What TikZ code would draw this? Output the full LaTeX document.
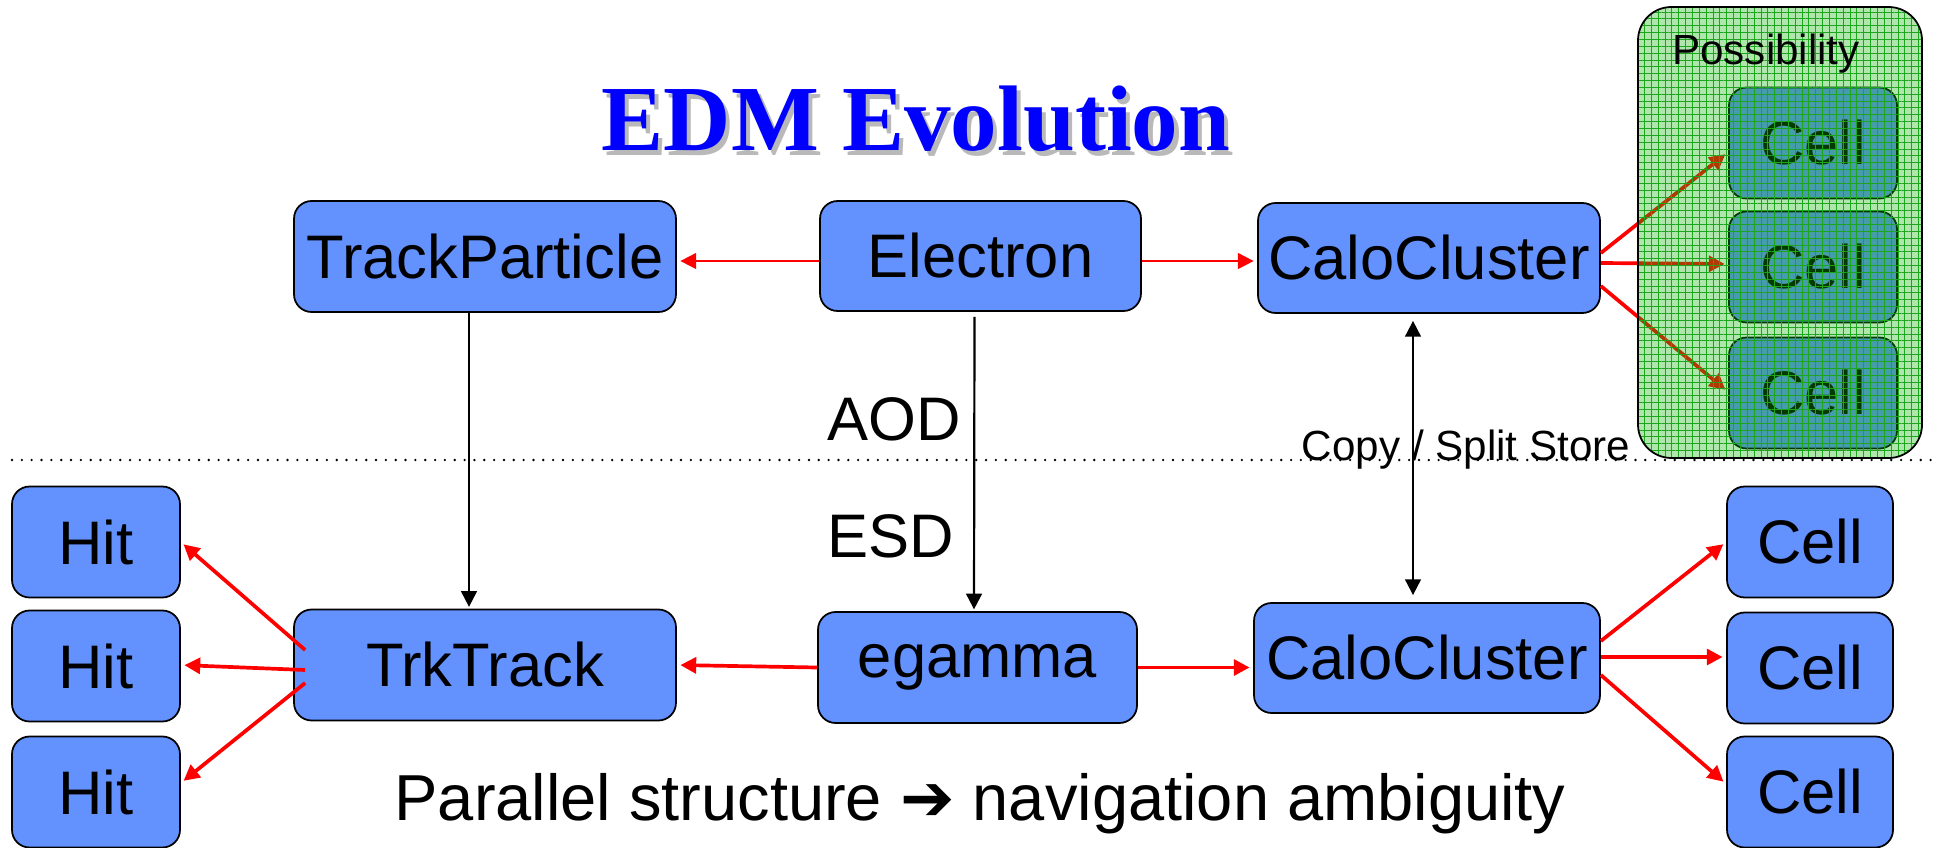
\documentclass[tikz,border=0pt]{standalone}
\usepackage{fontspec}
\setmainfont{Liberation Sans}
\newfontfamily\titlefont{Liberation Serif}
\newfontfamily\symfont{DejaVu Sans}
\usetikzlibrary{arrows.meta, patterns.meta}

\definecolor{boxblue}{RGB}{99,146,255}
\definecolor{possgreen}{RGB}{10,178,0}
\definecolor{gridgreen}{RGB}{30,165,30}
\definecolor{shadowgray}{RGB}{185,185,185}

\begin{document}
\begin{tikzpicture}[
    x=0.02cm, y=-0.02cm,
    % Node styles
    box/.style={
        draw, line width=1pt, fill=boxblue, rounded corners=10pt,
        inner sep=0pt, font=\fontsize{35}{42}\selectfont,
      },
    wide box/.style={box, minimum width=7.64cm, minimum height=2.22cm},
    small box/.style={box, minimum width=3.36cm, minimum height=2.22cm},
    txt/.style={anchor=base, inner sep=0pt, font=\fontsize{35}{42}\selectfont},
    % Edge/arrow styles
    >={Triangle[length=9pt, width=9pt]},
    link/.style={draw=red, line width=2.1pt, ->, shorten >=2pt},
    thin link/.style={link, line width=1pt},
    step link/.style={draw, line width=1.25pt, ->, shorten >=1pt},
    % Overlay of the "Possibility" group
    poss area/.style={rounded corners=19pt},
  ]
  \useasboundingbox (0,0) rectangle (1934,848);

  % --- Title with its shadow ---
  \node[txt, text=blue, font=\titlefont\bfseries\fontsize{53}{60}\selectfont]
    (title) at (916,151)
    {\makebox[0pt][l]{\hspace{2.3pt}\raisebox{-2.3pt}{\textcolor{shadowgray}{EDM Evolution}}}EDM Evolution};

  % --- AOD row ---
  \node[wide box] (tp) at (485,256.5) {TrackParticle};
  \node[box, minimum width=6.42cm, minimum height=2.2cm] (el) at (980.5,256) {Electron};
  \node[box, minimum width=6.84cm, minimum height=2.2cm] (ccT) at (1429,258) {CaloCluster};

  % --- ESD row ---
  \node[wide box] (trk) at (485,665) {TrkTrack};
  \node[box, minimum width=6.38cm, minimum height=2.22cm] (eg) at (977.5,667.5) {egamma};
  \node[box, minimum width=6.92cm, minimum height=2.2cm] (ccB) at (1427,658) {CaloCluster};

  % --- Hits and cells ---
  \foreach \yy/\i in {542/1, 666/2, 792/3} {
      \node[small box] (hit\i) at (96,\yy) {Hit};
    }
  \foreach \yy/\i in {143/1, 267/2, 393/3} {
      \node[small box] (cT\i) at (1813,\yy) {Cell};
    }
  \foreach \yy/\i in {542/1, 668/2, 792/3} {
      \node[small box, minimum width=3.32cm] (cB\i) at (1810,\yy) {Cell};
    }

  % --- Links ---
  \draw[thin link] ([shift={(0,5)}]el.west) -- ([shift={(0,4.5)}]tp.east);
  \draw[thin link] ([shift={(0,5)}]el.east) -- ([shift={(0,3)}]ccT.west);
  \draw[link] (eg.west) -- (trk.east);
  \draw[link] (eg.east) -- (eg.east -| ccB.west);

  \draw[link] ([shift={(12,-15)}]trk.west) -- (hit1.east);
  \draw[link] ([shift={(12,5)}]trk.west) -- (trk.west -| hit2.east);
  \draw[link] ([shift={(12,18)}]trk.west) -- ([shift={(0,-9)}]hit3.east);

  \draw[link] ([shift={(0,-17)}]ccB.east) -- (cB1.west);
  \draw[link] ([shift={(0,-1)}]ccB.east) -- ([shift={(0,-11)}]cB2.west);
  \draw[link] ([shift={(0,17)}]ccB.east) -- ([shift={(0,-8)}]cB3.west);

  \draw[link] ([shift={(0,-5)}]ccT.east) -- ([shift={(0,9)}]cT1.west);
  \draw[link] ([shift={(0,5)}]ccT.east) -- ([shift={(0,-3)}]cT2.west);
  \draw[link] ([shift={(0,28)}]ccT.east) -- ([shift={(0,-1)}]cT3.west);

  % AOD -> ESD steps
  \draw[step link] ([shift={(-16,0)}]tp.south) -- ([shift={(-16,0)}]trk.north);
  \draw[step link] ([shift={(-6,5)}]el.south) -- ([shift={(-3.5,0)}]eg.north);
  \draw[step link, <->, shorten <=4pt, shorten >=4pt, line width=1.1pt]
    ([shift={(-16,0)}]ccT.south) -- ([shift={(-14,0)}]ccB.north);

  % --- Possibility overlay ---
  \path[poss area, fill=possgreen, fill opacity=0.33] (1638,7) rectangle (1922,458);
  \path[poss area, fill opacity=0.55, pattern={Lines[distance=3.9pt, line width=0.55pt]},
    pattern color=gridgreen] (1638,7) rectangle (1922,458);
  \path[poss area, fill opacity=0.55, pattern={Lines[angle=90, distance=3.9pt, line width=0.55pt]},
    pattern color=gridgreen] (1638,7) rectangle (1922,458);
  \draw[poss area, line width=1pt] (1638,7) rectangle (1922,458);
  \node[txt, font=\fontsize{24}{28}\selectfont] (poss) at (1766,65) {Possibility};

  % --- AOD / ESD split ---
  \coordinate (sl) at (12,460);
  \coordinate (sr) at (1934,460);
  \draw[line width=1.5pt, line cap=round, dash pattern=on 0pt off 5.6pt] (sl) -- (sr);
  \node[txt] (aod) at (894,440) {AOD};
  \node[txt] (esd) at (891,557) {ESD};
  \node[txt, font=\fontsize{24}{28}\selectfont] (split) at (1466,460) {Copy / Split Store};

  % --- Caption ---
  \node[txt, font=\fontsize{37}{44}\selectfont] (caption) at (980,820)
    {Parallel structure {\symfont\bfseries ➔} navigation ambiguity};
\end{tikzpicture}
\end{document}
